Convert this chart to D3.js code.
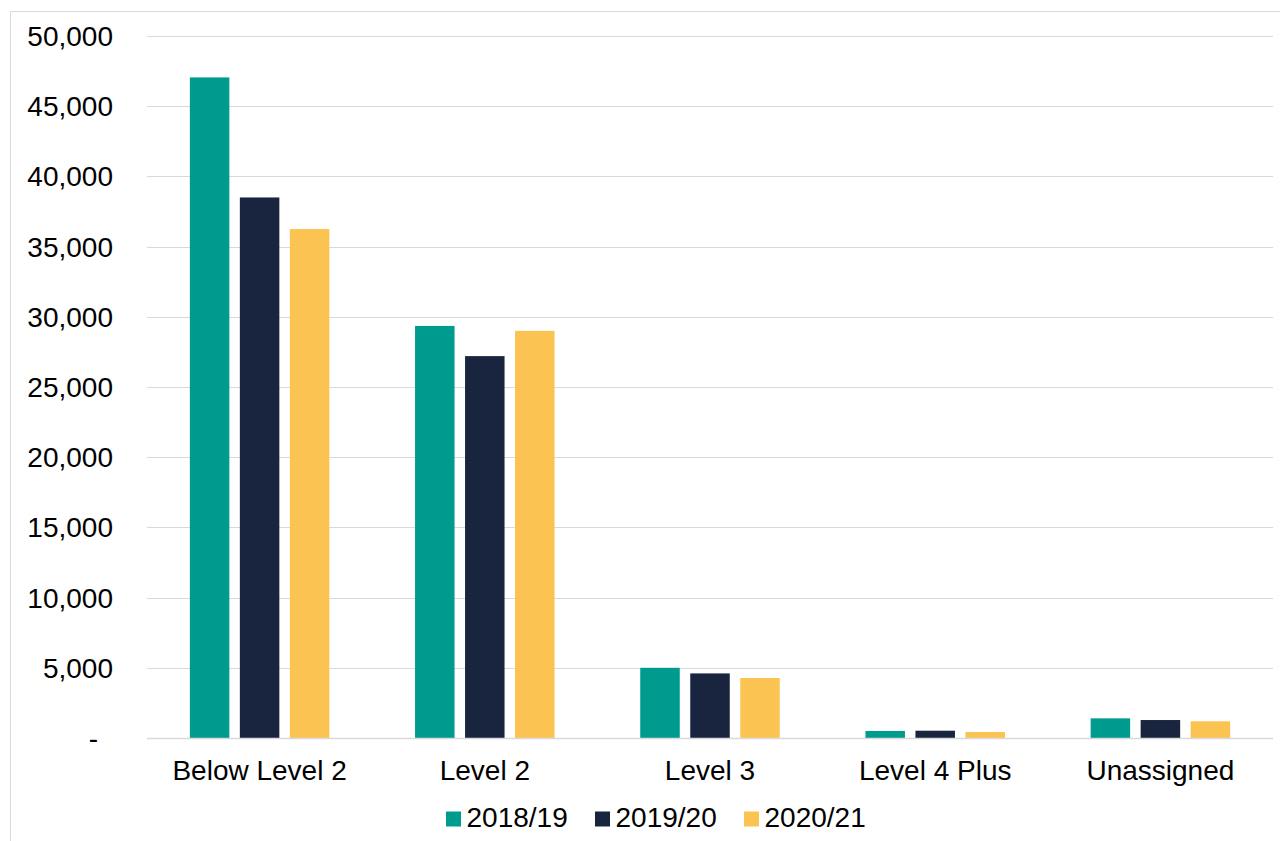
<!DOCTYPE html>
<html><head><meta charset="utf-8">
<script src="https://cdn.jsdelivr.net/npm/d3@7"></script>
<style>body{margin:0;background:#fff}svg{display:block}text{font-family:"Liberation Sans",Arial,sans-serif;fill:#000}</style>
</head><body><svg id="c" width="1280" height="841"></svg>
<script>
const categories = ["Below Level 2","Level 2","Level 3","Level 4 Plus","Unassigned"];
const seriesNames = ["2018/19","2019/20","2020/21"];
const colors = ["#009B8F","#19253F","#FBC351"];
const v2018 = [47050, 29350, 5000, 500, 1400];
const v2019 = [38500, 27200, 4600, 520, 1280];
const v2020 = [36250, 29000, 4270, 430, 1190];
const tickValues = [0,5000,10000,15000,20000,25000,30000,35000,40000,45000,50000];
const series = [v2018, v2019, v2020];

const svg = d3.select("#c");
svg.append("rect").attr("x",10.5).attr("y",11.5).attr("width",1290).attr("height",840)
  .attr("fill","none").attr("stroke","#d9d9d9").attr("stroke-width",1);

const pLeft=147, pRight=1273, pTop=36, pBottom=738;
const y = d3.scaleLinear().domain([0,50000]).range([pBottom,pTop]);
const x0 = d3.scaleBand().domain(categories).range([pLeft,pRight]).paddingInner(0).paddingOuter(0);
const x1 = d3.scaleBand().domain(seriesNames).range([0,x0.bandwidth()]).paddingInner(0.21).paddingOuter(0.857);

svg.append("g").selectAll("line").data(tickValues).join("line")
  .attr("x1",pLeft).attr("x2",pRight).attr("y1",d=>Math.round(y(d))+0.5).attr("y2",d=>Math.round(y(d))+0.5)
  .attr("stroke","#d9d9d9").attr("stroke-width",1);

const yAxis = d3.axisLeft(y).tickValues(tickValues).tickSize(0).tickPadding(0)
  .tickFormat(d=> d===0 ? "-" : d3.format(",")(d));
const ga = svg.append("g").attr("transform",`translate(113,0)`).call(yAxis);
ga.select(".domain").remove();
ga.selectAll("text").attr("font-size",28).attr("fill","#000").style("font-family","Liberation Sans, Arial, sans-serif")
  .attr("dx", d=> d===0 ? -15 : 0).attr("dy", "0.34em");

series.forEach((vals,si)=>{
  svg.append("g").selectAll("rect").data(vals).join("rect")
    .attr("x",(d,i)=>x0(categories[i])+x1(seriesNames[si]))
    .attr("width",x1.bandwidth())
    .attr("y",d=>y(d)).attr("height",d=>pBottom-y(d))
    .attr("fill",colors[si]);
});

svg.append("line").attr("x1",pLeft).attr("x2",pRight).attr("y1",pBottom+0.5).attr("y2",pBottom+0.5)
  .attr("stroke","#d9d9d9").attr("stroke-width",1.5);

const xAxis = d3.axisBottom(x0).tickSize(0).tickPadding(0);
const gx = svg.append("g").attr("transform",`translate(0,${pBottom})`).call(xAxis);
gx.select(".domain").remove();
gx.selectAll("text").attr("font-size",28).attr("dy",null).attr("y",41.5)
  .style("font-family","Liberation Sans, Arial, sans-serif").attr("fill","#000");

const legX = [446,595,744];
const lg = svg.append("g");
seriesNames.forEach((s,i)=>{
  lg.append("rect").attr("x",legX[i]).attr("y",811.5).attr("width",15).attr("height",15).attr("fill",colors[i]);
  lg.append("text").attr("x",legX[i]+20.5).attr("y",827).attr("font-size",28).text(s);
});
</script></body></html>
